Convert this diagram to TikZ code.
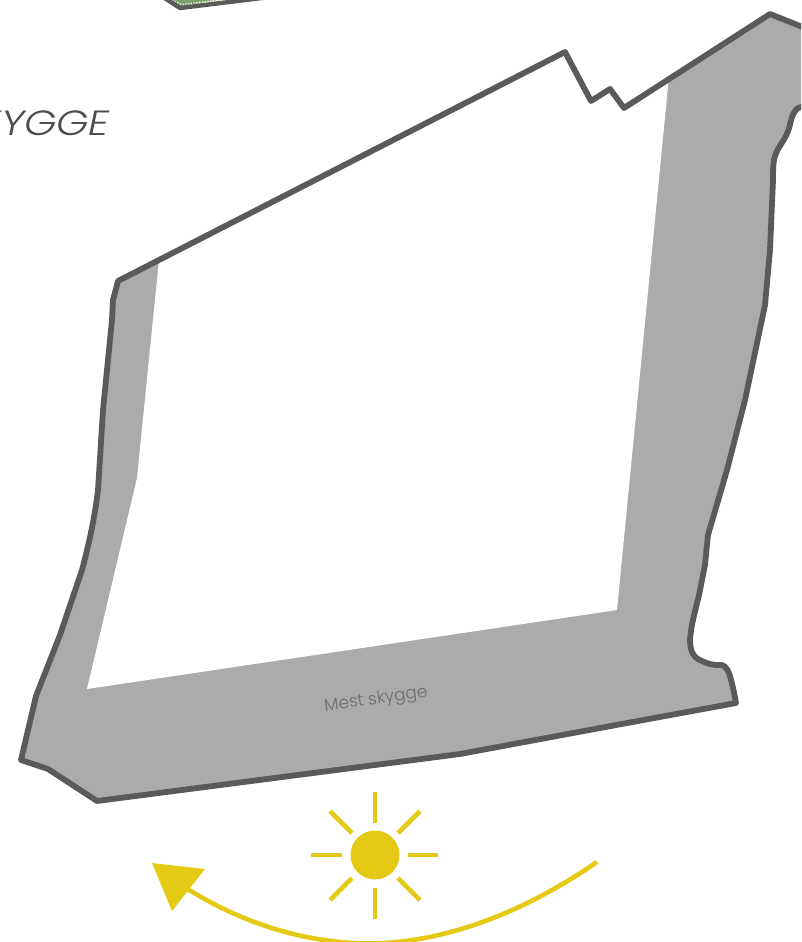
\documentclass[tikz,border=0pt]{standalone}
\usepackage{fontspec}
\setmainfont{Lato}
\newfontfamily\thinit{Poppins Light Italic}
\newfontfamily\labelfont{Poppins Light}
\definecolor{outl}{HTML}{5A5A59}
\definecolor{wallgrey}{HTML}{ABABAA}
\definecolor{sun}{HTML}{E4CA15}
\definecolor{lbl}{HTML}{6C6C6C}
\definecolor{grn}{HTML}{7F9F68}
\tikzset{ray/.style={draw=sun,line width=4.6pt},
 wall/.style={draw=outl,line width=5.8pt,line join=round}}
\begin{document}
\begin{tikzpicture}[x=1pt,y=-1pt]
\useasboundingbox (0,0) rectangle (801,942);
\clip (0,0) rectangle (801,942);
\def\outline{(118,281) -- (565,52) -- (591,101) -- (610,89) -- (624,108) -- (770,14) -- (815,32) -- (815,104) -- (801,107) .. controls (796,108) and (794,112) .. (792,117) .. controls (790,124) and (789,130) .. (786,136) .. controls (781,145) and (776,150) .. (774,160) .. controls (773,166) and (773,172) .. (773,180) -- (770,250) -- (765,305) -- (745,400) -- (727,470) -- (708,535) -- (705,565) -- (699,595) .. controls (695,612) and (691,625) .. (690,640) .. controls (690,652) and (694,658) .. (702,661) .. controls (708,664) and (713,665) .. (718,665) .. controls (724,664) and (726,667) .. (729,673) .. controls (732,682) and (734,692) .. (736,703) -- (600,728) -- (460,754) -- (97,801) -- (48,769) -- (21,760) -- (36,696) -- (60,635) -- (82,570) .. controls (90,540) and (95,515) .. (98,490) -- (103,410) -- (112,320) -- (113,300) -- cycle}
\fill[wallgrey] \outline;
\fill[white] (159,260) -- (137,478) -- (87,689) -- (617,610) -- (669,76) -- (624,108) -- (610,89) -- (591,101) -- (565,52) -- cycle;
\draw[wall] \outline;
% fragment at the top
\fill[grn] (165,-2) -- (180,6) -- (232,-2) -- cycle;
\draw[white,line width=1.2pt,dash pattern=on 1.2pt off 1.6pt] (172,0.5) -- (182,4.5) -- (218,0);
\draw[outl,line width=4.4pt,line join=round] (163,-3) -- (180,8) -- (270,-3);
% labels
\node[anchor=east,inner sep=0pt,xscale=1.18,font=\thinit\fontsize{35}{35}\selectfont,text=black!70] (title) at (110,123) {SKYGGE};
\node[rotate=8,inner sep=0pt,font=\labelfont\fontsize{17}{18}\selectfont,text=lbl] (most) at (376,700) {Mest skygge};
% sun
\fill[sun] (375,855) circle (24.5);
\draw[ray] (375,792) -- (375,823);
\draw[ray] (375,888) -- (375,919);
\draw[ray] (311,855) -- (342,855);
\draw[ray] (408,855) -- (438,855);
\draw[ray] (330,811) -- (352,833);
\draw[ray] (420,811) -- (398,833);
\draw[ray] (330,900) -- (352,878);
\draw[ray] (420,900) -- (398,878);
% path of the sun
\draw[sun,line width=4.6pt] (597,862) .. controls (520,915) and (440,944) .. (365,943.5) .. controls (305,942) and (245,925) .. (186,888);
\fill[sun] (152,863) -- (205,869) -- (172,911) -- cycle;
\end{tikzpicture}
\end{document}
